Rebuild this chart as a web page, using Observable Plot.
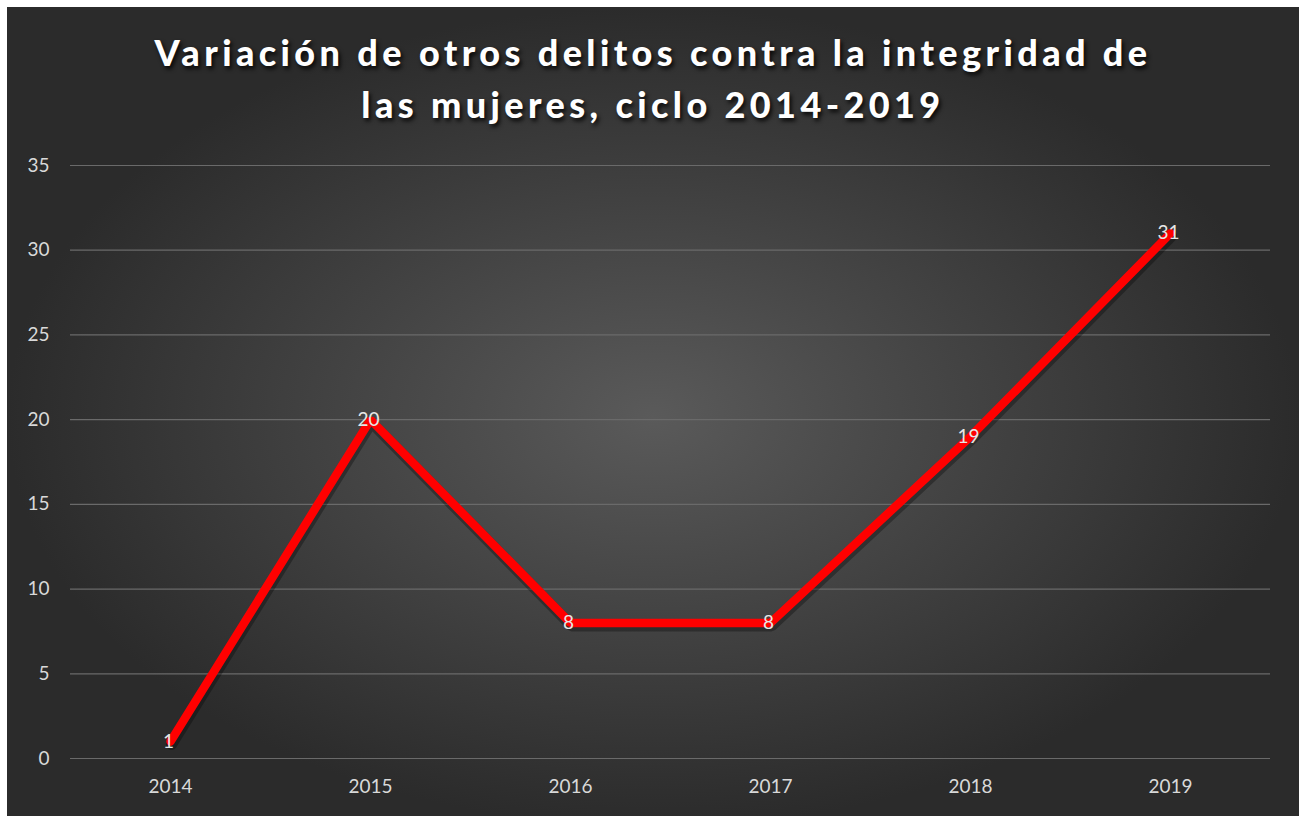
<!DOCTYPE html>
<html>
<head>
<meta charset="utf-8">
<script src="https://cdn.jsdelivr.net/npm/d3@7"></script>
<script src="https://cdn.jsdelivr.net/npm/@observablehq/plot@0.6"></script>
<style>
  html, body { margin: 0; padding: 0; background: #ffffff; overflow: hidden; }
  #panel {
    position: absolute; left: 7px; top: 7px; width: 1292px; height: 820px;
    background: radial-gradient(ellipse closest-side at 50% 50%, #5a5a5a 0%, #2b2b2b 100%);
    font-family: Lato, "Open Sans", sans-serif;
  }
  #title {
    position: absolute; left: 0; top: 19px; width: 100%;
    text-align: center; color: #ffffff; font-weight: 900;
    font-size: 36px; line-height: 52px; letter-spacing: 4.4px;
    text-shadow: 2px 3px 4px rgba(0,0,0,0.85);
  }
  #chart { position: absolute; left: 0; top: 133px; }
</style>
</head>
<body>
<div id="panel">
  <div id="title">Variación de otros delitos contra la integridad de<br>las mujeres, ciclo 2014-2019</div>
  <div id="chart"></div>
</div>
<script>
const years = ["2014", "2015", "2016", "2017", "2018", "2019"];
const values = [1, 20, 8, 8, 19, 31];
const yTicks = [0, 5, 10, 15, 20, 25, 30, 35];

const data = years.map((y, i) => ({year: y, value: values[i]}));

const chart = Plot.plot({
  width: 1292,
  height: 676,
  marginTop: 25,
  marginBottom: 58,
  marginLeft: 63,
  marginRight: 29,
  style: {background: "transparent", color: "#d9d9d9", fontFamily: "Lato, 'Open Sans', sans-serif"},
  x: {type: "point", domain: years, padding: 0.5, label: null},
  y: {domain: [0, 35], ticks: yTicks, label: null},
  marks: [
    Plot.ruleY(yTicks, {stroke: "#6a6a6a", strokeWidth: 1.2}),
    Plot.axisY({ticks: yTicks, tickSize: 0, tickPadding: 21, fontSize: 19, fill: "#d9d9d9", label: null}),
    Plot.axisX({tickSize: 0, tickPadding: 21, fontSize: 19, fill: "#d9d9d9", label: null}),
    Plot.line(data, {x: "year", y: "value", stroke: "#000000", strokeOpacity: 0.3, strokeWidth: 11, dx: 1, dy: 3, strokeLinejoin: "miter"}),
    Plot.line(data, {x: "year", y: "value", stroke: "#ff0000", strokeWidth: 8.5, strokeLinejoin: "miter"}),
    Plot.text(data, {x: "year", y: "value", text: d => String(d.value), fill: "#e6e6e6", fontSize: 19, dx: -2})
  ]
});
document.getElementById("chart").appendChild(chart);
</script>
</body>
</html>
